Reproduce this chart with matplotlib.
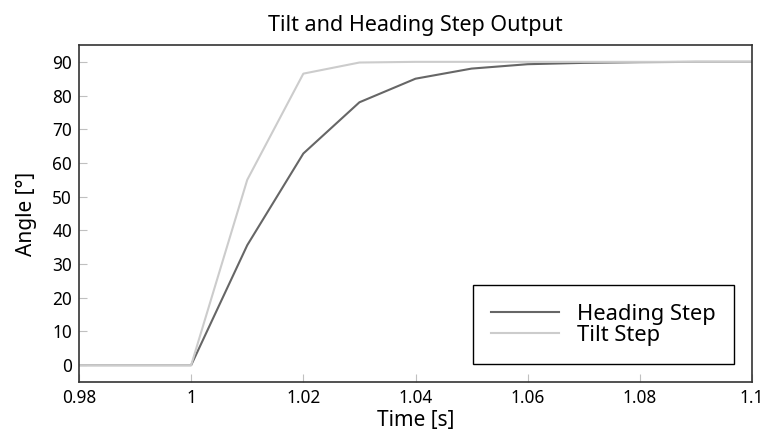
import matplotlib.pyplot as plt

time_s = [0.98, 0.99, 1.00, 1.01, 1.02, 1.03, 1.04, 1.05, 1.06, 1.07, 1.08, 1.09, 1.10]
heading = [0, 0, 0, 35.6, 62.8, 78.0, 85.0, 88.0, 89.3, 89.7, 89.9, 90.0, 90.0]
tilt = [0, 0, 0, 55.0, 86.5, 89.8, 90.0, 90.0, 90.0, 90.0, 90.0, 90.0, 90.0]

xticks = [0.98, 1.0, 1.02, 1.04, 1.06, 1.08, 1.1]
xlabels = ["0.98", "1", "1.02", "1.04", "1.06", "1.08", "1.1"]
yticks = list(range(0, 100, 10))

plt.rcParams['font.family'] = ['Noto Sans', 'DejaVu Sans']

fig = plt.figure(figsize=(7.67, 4.4), dpi=100)
ax = fig.add_axes([79 / 767, 1 - 382 / 440, (752 - 79) / 767, (382 - 45) / 440])

ax.plot(time_s, heading, color='#666666', lw=1.5, label='Heading Step')
ax.plot(time_s, tilt, color='#cccccc', lw=1.5, label='Tilt Step')

ax.set_xlim(0.98, 1.1)
ax.set_ylim(-5, 95)
ax.set_xticks(xticks)
ax.set_xticklabels(xlabels)
ax.set_yticks(yticks)
ax.tick_params(direction='in', length=5.8, color='#c0c0c0', labelsize=12.4, pad=5)
for s in ax.spines.values():
    s.set_color('#333333')
    s.set_linewidth(1.2)

ax.set_xlabel('Time [s]', fontsize=15, labelpad=2)
ax.set_ylabel('Angle [°]', fontsize=15, labelpad=11)
ax.set_title('Tilt and Heading Step Output', fontsize=15.5, pad=10)

leg = ax.legend(loc='lower right', fontsize=15.8, fancybox=False, framealpha=1,
                edgecolor='black', borderpad=0.85, handlelength=3.1,
                handletextpad=0.8, borderaxespad=0.8, labelspacing=0.0)
leg.get_frame().set_linewidth(1.0)

fig.savefig('out.png', dpi=100)
